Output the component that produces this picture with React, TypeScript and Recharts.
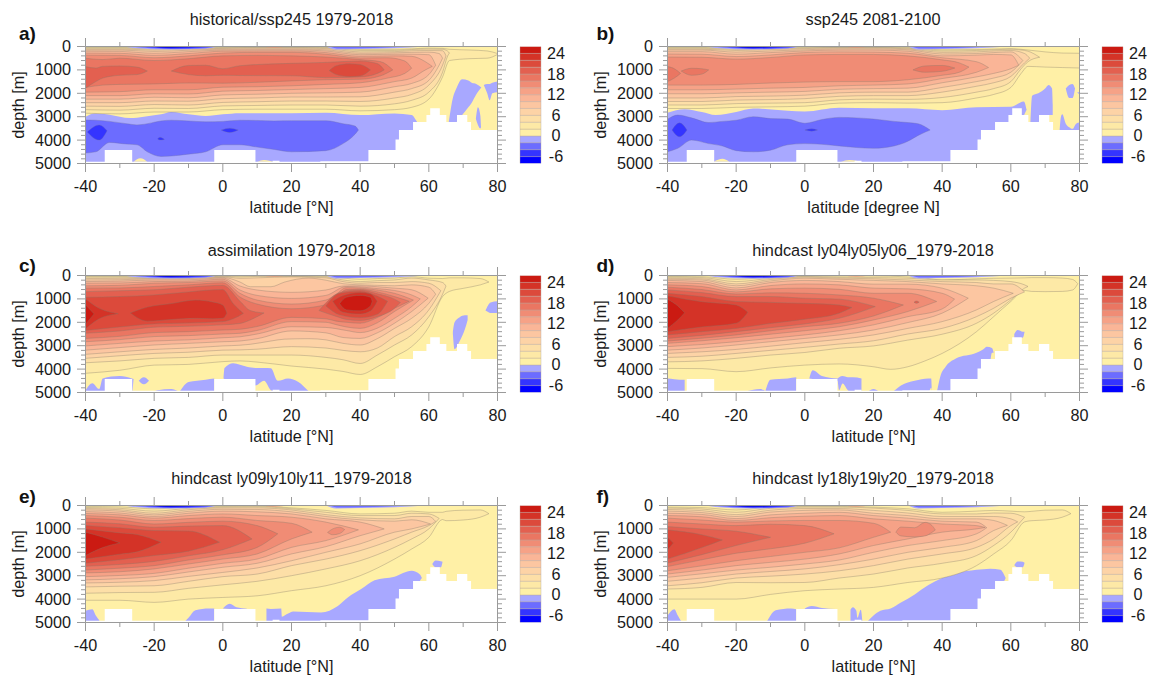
import React from 'react';
import { ComposedChart, Area, Bar, XAxis, YAxis } from 'recharts';

type Row = number[];
const FONT = '"Liberation Sans", Arial, sans-serif';

const latTicks = [-40, -30, -20, -10, 0, 10, 20, 30, 40, 50, 60, 70, 80];
const depthTicks = [0, 200, 400, 600, 800, 1000, 1200, 1400, 1600, 1800, 2000, 2200, 2400, 2600, 2800, 3000, 3200, 3400, 3600, 3800, 4000, 4200, 4400, 4600, 4800, 5000];
const barTicks = [24, 18, 12, 6, 0, -6];

const warmColors: Record<number, string> = {
  2: '#fde9a6', 4: '#fddfa7', 6: '#fdd3a6', 8: '#fcc6a1', 10: '#fab597', 12: '#f6a287',
  14: '#f08c75', 16: '#ea7662', 18: '#e36050', 20: '#dc4a3b', 22: '#d43327', 24: '#cb1a12',
};
const coldColors: Record<number, string> = { 0: '#a8a8ff', [-2]: '#6c6cff', [-4]: '#3434ff', [-6]: '#0000e0' };
const YELLOW = '#fff0a6';

const barBands = [
  { k: 'n1', v: -2, c: '#a8a8ff' }, { k: 'n2', v: -2, c: '#6c6cff' }, { k: 'n3', v: -2, c: '#3434ff' }, { k: 'n4', v: -2, c: '#0000ff' },
  { k: 'p0', v: 2, c: YELLOW }, { k: 'p2', v: 2, c: '#fde9a6' }, { k: 'p4', v: 2, c: '#fddfa7' }, { k: 'p6', v: 2, c: '#fdd3a6' },
  { k: 'p8', v: 2, c: '#fcc6a1' }, { k: 'p10', v: 2, c: '#fab597' }, { k: 'p12', v: 2, c: '#f6a287' }, { k: 'p14', v: 2, c: '#f08c75' },
  { k: 'p16', v: 2, c: '#ea7662' }, { k: 'p18', v: 2, c: '#e36050' }, { k: 'p20', v: 2, c: '#dc4a3b' }, { k: 'p22', v: 2, c: '#d43327' }, { k: 'p24', v: 2, c: '#cb1a12' },
];

const baseBox: Row[] = [[-40, 0, 5000], [80, 0, 5000]];
const seafloor: Row[] = [[-40, 4920, 5000], [-34.4, 4420, 5000], [-26.4, 4920, 5000], [-2.5, 4420, 5000], [9.5, 4920, 5000], [14.5, 4880, 5000], [16.5, 4920, 5000], [28.4, 4900, 5000], [42.4, 4420, 5000], [50.3, 3970, 5000], [51.3, 3570, 5000], [55.4, 3230, 5000], [59.3, 2930, 5000], [60.4, 2640, 5000], [63.2, 2930, 5000], [65.1, 3230, 5000], [68.2, 2930, 5000], [71.2, 3230, 5000], [72.3, 3570, 5000], [80, 3570, 5000]];

// surface lenses
const surfLeft0: Row[] = [[-29, 0, 0], [-26, 0, 60], [-15, 0, 130], [-5, 0, 90], [-1.5, 0, 0]];
const surfLeft2: Row[] = [[-27, 0, 0], [-15, 0, 110], [-5, 0, 70], [-2, 0, 0]];
const surfLeft4: Row[] = [[-24, 0, 0], [-15, 0, 85], [-7, 0, 50], [-3, 0, 0]];
const surfLeft6: Row[] = [[-21, 0, 0], [-15, 0, 55], [-10, 0, 35], [-6, 0, 0]];
const surfRight0: Row[] = [[30, 0, 0], [33, 0, 130], [40, 0, 110], [50, 0, 70], [59, 0, 0]];
const surfRight2: Row[] = [[31, 0, 0], [34, 0, 90], [40, 0, 70], [48, 0, 40], [54, 0, 0]];
const surfWarm: Row[] = [[11, 0, 0], [15, 0, 45], [19, 0, 0]];

// panel a
const aC0a: Row[] = [[-40, 3000, 5000], [-37, 2850, 5000], [-33, 2920, 5000], [-27, 3060, 5000], [-23, 3000, 5000], [-18, 2900, 5000], [-15, 2800, 5000], [-10, 2900, 5000], [-5, 2970, 5000], [0, 2900, 5000], [5, 2850, 5000], [20, 2850, 5000], [30, 2830, 5000], [40, 2930, 5000], [50, 2860, 5000], [55, 2930, 5000], [56.5, 3200, 5000], [57, 3300, 3300]];
const aC0b: Row[] = [[65.8, 3230, 3230], [67, 2200, 3230], [68, 1800, 3230], [69.7, 1400, 2930], [71.5, 1450, 2600], [72.5, 1550, 2400], [73.8, 1600, 2050], [75.3, 1750, 1750]];
const aC0c: Row[] = [[73.7, 3100, 3100], [74.3, 2600, 3350], [75, 2950, 3500], [75.2, 3450, 3450]];
const aC0d: Row[] = [[76, 1650, 1650], [77, 1600, 2000], [77.7, 1600, 2300], [78.5, 1550, 2000], [80, 1500, 1950]];
const aC2: Row[] = [[-40, 3140, 4550], [-37, 3150, 4500], [-33, 3200, 4100], [-28, 3300, 4170], [-25, 3350, 4200], [-22, 3300, 4500], [-18, 3180, 4700], [-15, 3150, 4680], [-10, 3180, 4600], [-5, 3220, 4500], [0, 3200, 4200], [5, 3150, 4200], [10, 3160, 4300], [15, 3180, 4400], [20, 3170, 4500], [30, 3170, 4450], [35, 3300, 4150], [38.5, 3400, 3750], [39.5, 3570, 3570]];
const aC4a: Row[] = [[-39.5, 3650, 3650], [-36, 3350, 4000], [-33.7, 3600, 3600]];
const aC4b: Row[] = [[-19, 3950, 3950], [-18.3, 3880, 4000], [-17, 3970, 3970]];
const aC4c: Row[] = [[-0.5, 3570, 3570], [2, 3490, 3680], [4.5, 3570, 3570]];
const aY1: Row[] = [[-26, 4930, 4930], [-24, 4780, 4930], [-22, 4930, 4930]];
const aY2: Row[] = [[10, 4930, 4930], [12, 4850, 4930], [15, 4950, 4950]];
const aL2: Row[] = [[-40, 40, 2850], [-30, 40, 2880], [-20, 60, 2800], [-10, 40, 2800], [0, 30, 2700], [10, 20, 2680], [20, 20, 2680], [30, 40, 2680], [40, 120, 2750], [50, 120, 2700], [55, 100, 2600], [60, 70, 2250], [64, 80, 1300], [66, 120, 600], [72, 150, 520], [77, 190, 500], [80, 300, 340]];
const aL4: Row[] = [[-40, 70, 2700], [-30, 70, 2720], [-20, 100, 2640], [-10, 70, 2650], [0, 50, 2540], [10, 40, 2520], [20, 40, 2500], [30, 60, 2500], [40, 170, 2550], [50, 170, 2450], [55, 130, 2300], [60, 110, 1950], [64, 120, 1100], [65.5, 200, 400], [66, 280, 280]];
const aL6: Row[] = [[-40, 110, 2550], [-30, 110, 2560], [-20, 150, 2480], [-10, 110, 2500], [0, 80, 2390], [10, 60, 2360], [20, 60, 2330], [30, 90, 2330], [40, 230, 2350], [50, 220, 2200], [55, 180, 2050], [60, 170, 1650], [64, 180, 800], [65, 400, 400]];
const aL8: Row[] = [[-40, 150, 2400], [-30, 150, 2400], [-20, 210, 2330], [-10, 160, 2340], [0, 110, 2230], [10, 100, 2200], [20, 100, 2160], [30, 140, 2160], [40, 290, 2150], [50, 270, 1950], [55, 250, 1800], [60, 240, 1450], [63, 300, 800], [64, 500, 500]];
const aL10: Row[] = [[-40, 200, 2250], [-30, 210, 2250], [-20, 290, 2170], [-10, 220, 2190], [0, 150, 2070], [10, 140, 2040], [20, 140, 2000], [30, 190, 1980], [40, 350, 1950], [50, 330, 1720], [55, 330, 1580], [60, 350, 1200], [62, 800, 800]];
const aL12: Row[] = [[-40, 280, 2100], [-30, 290, 2100], [-20, 380, 2020], [-10, 300, 2030], [0, 200, 1910], [10, 190, 1880], [20, 190, 1840], [30, 260, 1800], [40, 420, 1750], [50, 400, 1500], [55, 420, 1350], [59, 650, 1000], [61, 850, 850]];
const aL14: Row[] = [[-40, 370, 1950], [-30, 380, 1930], [-20, 480, 1850], [-10, 400, 1850], [0, 280, 1740], [10, 250, 1720], [20, 250, 1680], [30, 330, 1620], [40, 490, 1550], [48, 480, 1350], [53, 620, 1150], [55, 930, 930]];
const aL16: Row[] = [[-40, 500, 1750], [-35, 560, 1650], [-30, 500, 1620], [-20, 600, 1600], [-10, 520, 1560], [0, 400, 1570], [10, 380, 1530], [20, 400, 1470], [30, 450, 1420], [40, 560, 1400], [46, 650, 1250], [49.5, 1000, 1000]];
const aL18a: Row[] = [[-40, 860, 1780], [-37, 920, 1500], [-35, 850, 1350], [-30, 830, 1230], [-25, 880, 1200], [-22, 1050, 1050]];
const aL18b: Row[] = [[-15, 1050, 1050], [-10, 810, 1200], [-5, 800, 1250], [0, 950, 1230], [5, 820, 1240], [20, 720, 1250], [30, 680, 1330], [40, 620, 1300], [45, 730, 1150], [47, 1000, 1000]];
const aL20: Row[] = [[31, 1030, 1030], [33, 820, 1200], [37, 740, 1290], [40, 770, 1260], [43, 1000, 1000]];

// panel b
const bC0a: Row[] = [[-40, 2830, 5000], [-35, 2680, 5000], [-30, 2800, 5000], [-26, 2930, 5000], [-20, 2800, 5000], [-15, 2650, 5000], [-5, 2750, 5000], [0, 2780, 5000], [10, 2620, 5000], [20, 2640, 5000], [30, 2640, 5000], [40, 2720, 5000], [50, 2600, 5000], [60, 2580, 5000], [63.8, 2350, 2950], [64.6, 2700, 2700]];
const bC0b: Row[] = [[65.7, 3230, 3230], [66.2, 2100, 3230], [68, 2000, 3230], [70, 1800, 2930], [71, 1650, 2930], [72, 1800, 2930], [72.2, 2500, 2930]];
const bC0c: Row[] = [[74.2, 3570, 3570], [74.6, 3000, 3570], [75, 2900, 3570], [76, 3300, 3570], [77, 3450, 3570], [78, 3520, 3570], [79, 3300, 3570], [80, 3250, 3570]];
const bC0d: Row[] = [[76, 1800, 1800], [77, 1650, 2200], [78, 1600, 2200], [78.7, 1800, 1800]];
const bC0e: Row[] = [[79.3, 1950, 1950], [80, 1950, 2050]];
const bC2: Row[] = [[-40, 3110, 4500], [-37, 2930, 4350], [-33, 3050, 4000], [-28, 3250, 4150], [-24, 3200, 4250], [-20, 3150, 4450], [-15, 3000, 4500], [-10, 3080, 4430], [-5, 3100, 4200], [0, 3280, 4150], [5, 3120, 4180], [10, 3030, 4250], [20, 3100, 4350], [26, 3200, 4250], [30, 3250, 4050], [33, 3300, 3800], [36.5, 3570, 3570]];
const bC4a: Row[] = [[-38.7, 3570, 3570], [-36.5, 3260, 3860], [-34.3, 3570, 3570]];
const bC4b: Row[] = [[0, 3570, 3570], [2, 3520, 3620], [3.7, 3570, 3570]];
const bY1: Row[] = [[-26.5, 4920, 4920], [-24, 4800, 4920], [-22, 4920, 4920]];
const bY2: Row[] = [[10.5, 4930, 4930], [13, 4850, 4930], [17, 4950, 4950]];
const bL2: Row[] = [[-40, 40, 2650], [-30, 40, 2650], [-20, 70, 2600], [-10, 50, 2580], [0, 30, 2550], [10, 20, 2420], [20, 20, 2400], [30, 40, 2420], [40, 140, 2400], [50, 130, 2200], [55, 110, 2050], [60, 90, 1750], [63, 120, 1150], [65, 150, 850], [70, 230, 880], [75, 280, 900], [80, 290, 920]];
const bL4: Row[] = [[-40, 70, 2500], [-30, 70, 2500], [-20, 120, 2440], [-10, 90, 2420], [0, 60, 2400], [10, 40, 2280], [20, 40, 2250], [30, 70, 2260], [40, 190, 2180], [50, 170, 1950], [55, 140, 1800], [60, 120, 1500], [63, 150, 950], [65, 200, 650], [68.4, 460, 460]];
const bL6: Row[] = [[-40, 110, 2350], [-30, 110, 2350], [-20, 170, 2290], [-10, 130, 2270], [0, 90, 2230], [10, 60, 2130], [20, 60, 2100], [30, 100, 2100], [40, 250, 1950], [50, 230, 1700], [55, 190, 1550], [60, 170, 1280], [64, 300, 700], [65.5, 500, 500]];
const bL8: Row[] = [[-40, 150, 2200], [-30, 150, 2200], [-20, 240, 2140], [-10, 190, 2120], [0, 140, 2080], [10, 100, 1980], [20, 100, 1950], [30, 140, 1950], [40, 320, 1750], [50, 300, 1500], [55, 260, 1350], [60, 230, 1100], [63.5, 600, 600]];
const bL10: Row[] = [[-40, 220, 2020], [-30, 220, 2020], [-20, 330, 1980], [-10, 260, 1950], [0, 190, 1920], [10, 150, 1830], [20, 150, 1800], [30, 200, 1780], [40, 400, 1550], [50, 370, 1300], [55, 340, 1150], [60, 360, 950], [62.3, 800, 800]];
const bL12: Row[] = [[-40, 320, 1850], [-30, 330, 1850], [-20, 430, 1820], [-10, 360, 1780], [0, 260, 1750], [10, 230, 1680], [20, 240, 1650], [30, 290, 1600], [40, 480, 1370], [50, 650, 1100], [53.5, 900, 900]];
const bL14: Row[] = [[-40, 450, 1650], [-30, 460, 1650], [-20, 540, 1620], [-10, 470, 1560], [0, 360, 1520], [10, 340, 1500], [20, 340, 1500], [30, 400, 1420], [40, 570, 1230], [45, 700, 1100], [47.8, 880, 880]];
const bL16a: Row[] = [[-40, 860, 1500], [-38, 950, 1350], [-36.2, 1150, 1150]];
const bL16b: Row[] = [[-36, 1050, 1050], [-33, 930, 1230], [-30, 950, 1180], [-28, 1000, 1000]];
const bL16c: Row[] = [[31.5, 1000, 1000], [35, 830, 1100], [40, 810, 1060], [43.7, 920, 920]];

// panel c
const cC0a: Row[] = [[-40, 4900, 5000], [-38, 4600, 5000], [-36, 4850, 5000], [-35, 4400, 5000], [-30, 4300, 5000], [-26.5, 4400, 5000], [-26, 4420, 4420]];
const cC0b: Row[] = [[-24.5, 4500, 4500], [-23, 4350, 4650], [-21.5, 4500, 4500]];
const cC0c: Row[] = [[-20, 4950, 4950], [-19, 4900, 5000], [-15, 4850, 5000], [-13, 4950, 4950]];
const cC0d: Row[] = [[-12.5, 4950, 5000], [-10, 4550, 5000], [-5, 4450, 5000], [-2.5, 4400, 5000]];
const cC0e: Row[] = [[0.2, 4400, 4400], [0.5, 3950, 4420], [3, 3750, 4420], [7, 3900, 4420], [9.5, 3950, 4700], [12, 3950, 4500], [14, 3960, 4900], [16, 4500, 5000], [19, 4400, 5000], [22, 4550, 5000], [25, 4950, 5000]];
const cC0f: Row[] = [[67, 2400, 2500], [67.5, 2000, 3150], [69, 1780, 2800], [70.5, 1700, 2300], [71.3, 1700, 1900]];
const cC0g: Row[] = [[76.5, 1500, 1500], [78, 1150, 1600], [80, 1100, 1600]];
const cL2: Row[] = [[-40, 40, 4180], [-30, 40, 4050], [-20, 60, 3830], [-10, 50, 3800], [0, 20, 3680], [5, 20, 3650], [10, 20, 3700], [20, 25, 3870], [30, 30, 4000], [35, 110, 4100], [40, 160, 4230], [45, 130, 3900], [50, 110, 3470], [55, 50, 3040], [60, 115, 2190], [64, 130, 900], [66, 100, 680], [70, 100, 550], [75, 130, 400], [77.5, 280, 280]];
const cL4: Row[] = [[-40, 70, 3730], [-30, 70, 3650], [-20, 90, 3540], [-10, 90, 3500], [0, 30, 3400], [5, 60, 3400], [10, 40, 3400], [20, 40, 3400], [30, 60, 3500], [35, 190, 3600], [40, 260, 3760], [45, 220, 3400], [50, 190, 2970], [55, 110, 2540], [60, 190, 1760], [64, 300, 800], [65, 450, 450]];
const cL6: Row[] = [[-40, 130, 3540], [-30, 120, 3430], [-20, 120, 3330], [-10, 110, 3280], [0, 50, 3190], [5, 120, 3180], [10, 100, 3150], [20, 60, 3040], [30, 100, 3100], [35, 260, 3200], [40, 330, 3260], [45, 300, 3100], [50, 300, 2610], [55, 260, 2190], [60, 330, 1470], [63.5, 650, 650]];
const cL8: Row[] = [[-40, 190, 3370], [-30, 180, 3260], [-20, 140, 3160], [-10, 130, 3100], [0, 80, 3010], [5, 280, 2980], [8, 480, 2940], [14, 480, 2800], [18, 280, 2720], [25, 110, 2700], [30, 200, 2750], [35, 350, 2900], [40, 400, 2970], [45, 420, 2700], [50, 440, 2260], [55, 400, 1830], [60, 500, 1190], [62, 800, 800]];
const cL10: Row[] = [[-40, 260, 3190], [-30, 240, 3080], [-20, 190, 2970], [-10, 180, 2900], [0, 110, 2830], [5, 450, 2800], [10, 620, 2700], [20, 720, 2370], [30, 620, 2450], [35, 450, 2650], [40, 440, 2690], [45, 480, 2450], [50, 540, 2040], [55, 610, 1540], [59.8, 970, 970]];
const cL12: Row[] = [[-40, 330, 3010], [-30, 320, 2900], [-20, 260, 2800], [-10, 240, 2750], [0, 160, 2660], [5, 620, 2620], [10, 850, 2500], [20, 980, 2190], [30, 850, 2220], [36, 470, 2350], [40, 490, 2440], [45, 560, 2250], [50, 640, 1830], [55, 830, 1330], [57.5, 1000, 1000]];
const cL14: Row[] = [[-40, 440, 2830], [-30, 420, 2740], [-20, 330, 2610], [-10, 300, 2570], [0, 230, 2500], [5, 760, 2470], [10, 1050, 2350], [20, 1220, 1970], [30, 1050, 2000], [33, 800, 2100], [36, 520, 2200], [40, 540, 2260], [45, 620, 2020], [50, 760, 1540], [55.5, 1050, 1050]];
const cL16: Row[] = [[-40, 540, 2690], [-30, 530, 2600], [-20, 470, 2440], [-10, 400, 2400], [0, 310, 2330], [5, 920, 2300], [10, 1220, 2180], [20, 1420, 1790], [30, 1250, 1850], [33, 950, 1950], [36, 600, 2000], [40, 590, 2040], [45, 700, 1800], [50, 900, 1400], [54.3, 1100, 1100]];
const cL18a: Row[] = [[-40, 690, 2470], [-30, 650, 2370], [-20, 610, 2210], [-10, 500, 2170], [0, 420, 2110], [5, 1100, 2050], [8, 1500, 1900], [12, 1600, 1600]];
const cL18b: Row[] = [[28, 1500, 1500], [33, 800, 1750], [36, 660, 1880], [40, 620, 1920], [45, 780, 1760], [50, 1010, 1400], [51.7, 1150, 1150]];
const cL20a: Row[] = [[-40, 930, 2350], [-30, 900, 2200], [-20, 830, 2070], [-10, 700, 2030], [0, 600, 1970], [3, 1200, 1850], [6, 1620, 1620]];
const cL20b: Row[] = [[30, 1300, 1300], [34, 760, 1680], [40, 670, 1810], [45, 880, 1660], [48, 1100, 1100]];
const cL22a: Row[] = [[-40, 1000, 2280], [-36, 1400, 1850], [-30.5, 1630, 1630]];
const cL22b: Row[] = [[-27, 1600, 1600], [-22, 1350, 1950], [-15, 1200, 1880], [-8, 1050, 1830], [-3, 1130, 1850], [0, 1260, 1830], [1.2, 1610, 1610]];
const cL22c: Row[] = [[32, 1100, 1100], [35, 860, 1570], [40, 730, 1650], [43, 780, 1520], [45, 1100, 1100]];
const cL24a: Row[] = [[-40, 1250, 2080], [-37.5, 1640, 1640]];
const cL24b: Row[] = [[34, 1200, 1200], [36, 930, 1470], [40, 850, 1510], [43, 930, 1300], [43.5, 1100, 1100]];

// panel d
const dC0a: Row[] = [[-40, 4400, 5000], [-38, 4430, 5000], [-36.5, 4450, 4950], [-35, 4450, 5000]];
const dC0b: Row[] = [[-17, 4950, 4950], [-13, 4850, 5000], [-11.5, 4950, 4950]];
const dC0c: Row[] = [[-11.5, 4950, 5000], [-10, 4450, 5000], [-5, 4400, 5000], [-2.5, 4350, 5000]];
const dC0d: Row[] = [[1.3, 4400, 4400], [2.3, 4050, 4420], [5, 4300, 4420], [9.5, 4400, 4500], [10, 4350, 4900], [11, 4300, 4620], [12.5, 4350, 4900], [14, 4350, 5000], [16.5, 4400, 5000]];
const dC0e: Row[] = [[18.5, 4950, 4950], [20, 4850, 5000], [21.5, 4950, 4950]];
const dC0f: Row[] = [[25.5, 5000, 5000], [28, 4700, 5000], [32, 4500, 5000], [36, 4400, 5000], [36.8, 4400, 4800], [37, 5000, 5000]];
const dC0g: Row[] = [[38.5, 4950, 5000], [39.5, 4300, 5000], [41, 3900, 5000], [44, 3550, 5000], [50, 3300, 5000], [52, 3150, 5000], [53, 3050, 5000], [54.5, 3100, 3300], [55, 3300, 3300]];
const dC0h: Row[] = [[61, 2500, 2700], [62, 2330, 2700], [63.5, 2400, 2650], [64, 2400, 2400]];
const dL2: Row[] = [[-40, 40, 3970], [-30, 50, 3980], [-20, 160, 4110], [-10, 80, 3950], [0, 15, 3830], [10, 15, 3780], [20, 20, 3900], [25, 30, 4010], [30, 60, 3900], [35, 110, 3650], [40, 190, 3330], [50, 140, 2400], [55, 120, 1760], [60, 110, 1110], [64, 100, 640], [66, 90, 680], [70, 90, 690], [75, 110, 680], [78, 170, 620], [79.5, 350, 350]];
const dL4: Row[] = [[-40, 70, 3690], [-30, 90, 3650], [-20, 260, 3540], [-10, 120, 3400], [0, 40, 3290], [10, 70, 3110], [20, 90, 3010], [30, 115, 2760], [40, 190, 2510], [50, 190, 2040], [55, 210, 1610], [60, 260, 1040], [64, 400, 540], [65, 470, 470]];
const dL6: Row[] = [[-40, 115, 3500], [-30, 140, 3450], [-20, 360, 3330], [-10, 170, 3200], [0, 70, 3070], [10, 110, 2930], [20, 140, 2790], [30, 190, 2500], [40, 260, 2260], [50, 300, 1760], [55, 360, 1400], [60, 360, 970], [64, 700, 700]];
const dL8: Row[] = [[-40, 160, 3330], [-30, 190, 3260], [-20, 440, 3160], [-10, 230, 3020], [0, 115, 2870], [10, 160, 2730], [20, 210, 2540], [30, 260, 2260], [40, 360, 1970], [50, 440, 1470], [55, 540, 1110], [60.7, 760, 760]];
const dL10: Row[] = [[-40, 210, 3190], [-30, 260, 3100], [-20, 530, 2970], [-10, 300, 2830], [0, 210, 2690], [10, 260, 2540], [20, 370, 2330], [30, 370, 2010], [40, 540, 1610], [47.6, 970, 970]];
const dL12: Row[] = [[-40, 300, 3040], [-30, 350, 2950], [-20, 615, 2830], [-10, 430, 2690], [0, 360, 2540], [10, 400, 2360], [20, 540, 2110], [30, 570, 1760], [40, 760, 1430], [43.6, 1010, 1010]];
const dL14: Row[] = [[-40, 400, 2900], [-30, 470, 2790], [-20, 700, 2660], [-10, 570, 2510], [0, 540, 2360], [10, 590, 2190], [20, 760, 1900], [30, 760, 1540], [38.4, 1110, 1110]];
const dL16: Row[] = [[-40, 500, 2800], [-30, 600, 2680], [-20, 790, 2540], [-10, 740, 2360], [0, 760, 2190], [10, 830, 2040], [20, 970, 1730], [28.7, 1260, 1260]];
const dL18: Row[] = [[-40, 615, 2690], [-30, 730, 2560], [-20, 900, 2400], [-10, 900, 2230], [0, 970, 2070], [10, 1010, 1830], [20.5, 1330, 1330]];
const dL18b: Row[] = [[31.8, 1140, 1140], [32.5, 1090, 1190], [33.3, 1140, 1140]];
const dL20: Row[] = [[-40, 760, 2540], [-30, 900, 2400], [-20, 1110, 2260], [-10, 1150, 2050], [0, 1190, 1870], [10, 1260, 1610], [13.7, 1370, 1370]];
const dL22: Row[] = [[-40, 870, 2400], [-30, 1120, 2200], [-20, 1260, 2040], [-16.6, 1570, 1570]];
const dL24: Row[] = [[-40, 1010, 2260], [-37, 1300, 1900], [-35, 1590, 1590]];

// panel e
const eC0a: Row[] = [[-40, 4500, 5000], [-38, 4430, 5000], [-37, 4700, 5000], [-36, 4900, 5000]];
const eC0b: Row[] = [[-11, 4950, 4950], [-10, 4800, 5000], [-8, 4480, 5000], [-4, 4400, 5000], [-2.5, 4400, 5000]];
const eC0c: Row[] = [[0, 4400, 4400], [2, 4200, 4420], [4, 4350, 4420], [7, 4410, 4420]];
const eC0d: Row[] = [[12.7, 4400, 5000], [14, 4420, 5000], [17, 4400, 5000], [17.2, 4750, 5000], [19, 4620, 5000], [20.5, 4530, 5000], [28.6, 4570, 5000], [33.5, 4290, 5000], [36.4, 3930, 5000], [40.3, 3570, 5000], [44.2, 3190, 5000], [50, 3040, 5000], [55, 2790, 5000], [57.4, 2950, 3230], [58, 3100, 3100]];
const eC0e: Row[] = [[61, 2500, 2500], [62, 2350, 2640], [63.5, 2380, 2640], [64, 2400, 2400]];
const eL2: Row[] = [[-40, 40, 4050], [-30, 60, 4050], [-20, 140, 4140], [-10, 60, 4000], [0, 30, 3930], [10, 20, 3860], [20, 100, 3640], [30, 210, 3430], [40, 360, 3000], [50, 330, 2290], [55, 240, 1860], [60, 290, 1360], [64, 290, 600], [65, 250, 650], [70, 200, 620], [75, 190, 500], [77.5, 350, 350]];
const eL4: Row[] = [[-40, 85, 3750], [-30, 120, 3720], [-20, 240, 3710], [-10, 120, 3540], [0, 60, 3390], [10, 50, 3240], [20, 140, 3000], [30, 290, 2710], [40, 430, 2360], [50, 430, 1790], [55, 330, 1430], [60, 360, 1000], [63, 550, 550]];
const eL6: Row[] = [[-40, 130, 3480], [-30, 180, 3450], [-20, 330, 3430], [-10, 180, 3240], [0, 100, 3040], [10, 100, 2930], [20, 190, 2570], [30, 390, 2290], [40, 530, 1930], [50, 570, 1430], [55, 470, 1140], [60, 470, 860], [62, 680, 680]];
const eL8: Row[] = [[-40, 185, 3310], [-30, 240, 3280], [-20, 400, 3210], [-10, 250, 3030], [0, 160, 2860], [10, 170, 2670], [20, 270, 2360], [30, 470, 2000], [40, 610, 1640], [50, 670, 1140], [55, 610, 1000], [60.5, 790, 790]];
const eL10: Row[] = [[-40, 260, 3180], [-30, 320, 3130], [-20, 470, 3040], [-10, 330, 2840], [0, 240, 2640], [10, 270, 2470], [20, 360, 2070], [30, 570, 1760], [40, 710, 1290], [47, 1000, 1000]];
const eL12: Row[] = [[-40, 340, 3040], [-30, 400, 2990], [-20, 540, 2900], [-10, 430, 2680], [0, 360, 2470], [10, 430, 2290], [20, 500, 1790], [30, 710, 1500], [39.5, 1040, 1040]];
const eL14: Row[] = [[-40, 430, 2880], [-30, 500, 2830], [-20, 640, 2710], [-10, 560, 2500], [0, 500, 2290], [10, 640, 2070], [20, 760, 1430], [26, 1140, 1140]];
const eL14b: Row[] = [[30.5, 1150, 1150], [32, 1000, 1250], [34, 930, 1200], [35.5, 1030, 1030]];
const eL16: Row[] = [[-40, 540, 2760], [-30, 620, 2680], [-20, 790, 2570], [-10, 720, 2330], [0, 670, 2110], [10, 860, 1790], [16, 1210, 1210]];
const eL18: Row[] = [[-40, 710, 2600], [-30, 780, 2520], [-20, 930, 2390], [-10, 880, 2150], [0, 860, 1890], [8.5, 1430, 1430]];
const eL20: Row[] = [[-40, 850, 2470], [-30, 950, 2320], [-20, 1070, 2140], [-10, 1090, 1950], [-1, 1570, 1570]];
const eL22: Row[] = [[-40, 1000, 2290], [-30, 1170, 2080], [-25, 1240, 1980], [-18, 1570, 1570]];
const eL24: Row[] = [[-40, 1140, 2140], [-35, 1350, 1800], [-30, 1600, 1600]];

// panel f
const fC0a: Row[] = [[-40, 4700, 5000], [-38, 4430, 5000], [-37, 4700, 5000], [-36, 4950, 5000]];
const fC0b: Row[] = [[-11, 4950, 4950], [-10, 4700, 5000], [-8.5, 4480, 5000], [-4, 4400, 5000], [-2.5, 4430, 5000]];
const fC0c: Row[] = [[0, 4400, 4420], [2, 4300, 4420], [5, 4380, 4420], [9, 4420, 4420]];
const fC0d: Row[] = [[13.3, 4450, 5000], [14, 4350, 5000], [15, 4500, 5000], [15.3, 4800, 5000], [16.3, 4450, 5000], [16.8, 5000, 5000]];
const fC0e: Row[] = [[18, 5000, 5000], [20, 4700, 5000], [22, 4500, 5000], [25, 4400, 5000], [28, 4150, 5000], [32, 3800, 5000], [36, 3400, 5000], [40, 3100, 5000], [44, 2900, 5000], [50, 2750, 5000], [54, 2700, 5000], [57, 2750, 3230], [58, 2950, 3230], [58.5, 3100, 3100]];
const fC0f: Row[] = [[61, 2550, 2550], [62, 2390, 2640], [63.5, 2400, 2640], [64, 2450, 2450]];
const fL2: Row[] = [[-40, 70, 4000], [-30, 90, 4000], [-20, 190, 4000], [-10, 70, 3800], [0, 40, 3640], [10, 40, 3570], [20, 70, 3500], [30, 140, 3290], [40, 290, 3100], [50, 240, 2570], [55, 210, 2070], [60, 240, 1500], [64, 270, 700], [66, 250, 650], [70, 200, 620], [75, 190, 500], [77.5, 350, 350]];
const fL4: Row[] = [[-40, 110, 3570], [-30, 150, 3500], [-20, 290, 3290], [-10, 120, 3300], [0, 70, 3290], [10, 70, 3100], [20, 110, 2930], [30, 210, 2670], [40, 360, 2470], [50, 360, 2140], [55, 320, 1710], [60, 330, 1140], [64, 500, 500]];
const fL6: Row[] = [[-40, 170, 3430], [-30, 220, 3300], [-20, 390, 3100], [-10, 200, 3020], [0, 130, 2930], [10, 130, 2790], [20, 210, 2570], [30, 320, 2290], [40, 470, 2070], [50, 470, 1790], [55, 470, 1430], [60, 570, 860], [62, 700, 700]];
const fL8: Row[] = [[-40, 240, 3240], [-30, 300, 3100], [-20, 470, 2930], [-10, 280, 2820], [0, 210, 2710], [10, 190, 2530], [20, 330, 2290], [30, 430, 2000], [40, 570, 1790], [50, 570, 1500], [55, 640, 1070], [59, 850, 850]];
const fL10: Row[] = [[-40, 330, 3070], [-30, 380, 2920], [-20, 560, 2760], [-10, 400, 2640], [0, 330, 2500], [10, 290, 2330], [20, 430, 2000], [30, 540, 1710], [40, 670, 1500], [50, 710, 1210], [53, 950, 950]];
const fL12: Row[] = [[-40, 430, 2930], [-30, 480, 2760], [-20, 640, 2570], [-10, 520, 2430], [0, 460, 2290], [10, 430, 2070], [20, 570, 1710], [30, 670, 1430], [40, 790, 1140], [50, 860, 1000], [52.5, 940, 940]];
const fL14: Row[] = [[-40, 540, 2790], [-30, 620, 2580], [-20, 710, 2360], [-10, 660, 2180], [0, 640, 2000], [10, 640, 1810], [20, 760, 1360], [25, 1140, 1140]];
const fL14b: Row[] = [[26.5, 1140, 1140], [28, 920, 1300], [32, 950, 1340], [35, 720, 1300], [37, 850, 1150], [38, 1050, 1050]];
const fL16: Row[] = [[-40, 710, 2610], [-30, 790, 2320], [-20, 860, 2040], [-10, 800, 1850], [0, 860, 1610], [8.5, 1210, 1210]];
const fL18: Row[] = [[-40, 900, 2460], [-30, 1000, 2100], [-20, 1100, 1710], [-10, 1360, 1360]];
const fL20: Row[] = [[-40, 1040, 2290], [-30, 1250, 1800], [-24, 1470, 1470]];
const fL22: Row[] = [[-40, 1360, 1900], [-38.3, 1600, 1600]];

type Layer = { kind: 'base' | 'warm' | 'cold' | 'surf' | 'yellow' | 'floor'; level: number; rows: Row[] };
const L = (kind: Layer['kind'], level: number, rows: Row[]): Layer => ({ kind, level, rows });

const surfLayers = (): Layer[] => [
  L('surf', 14, surfWarm),
  L('surf', 0, surfLeft0), L('surf', -2, surfLeft2), L('surf', -4, surfLeft4), L('surf', -6, surfLeft6),
  L('surf', 0, surfRight0), L('surf', -2, surfRight2),
];
const wrap = (inner: Layer[]): Layer[] => [L('base', 0, baseBox), ...inner, ...surfLayers(), L('floor', 0, seafloor)];

const panels = [
  { letter: 'a)', title: 'historical/ssp245 1979-2018', xLabel: 'latitude [°N]', col: 0, row: 0, layers: wrap([
    L('cold', 0, aC0a), L('cold', 0, aC0b), L('cold', 0, aC0c), L('cold', 0, aC0d), L('cold', -2, aC2), L('cold', -4, aC4a), L('cold', -4, aC4b), L('cold', -4, aC4c),
    L('yellow', 0, aY1), L('yellow', 0, aY2),
    L('warm', 2, aL2), L('warm', 4, aL4), L('warm', 6, aL6), L('warm', 8, aL8), L('warm', 10, aL10), L('warm', 12, aL12), L('warm', 14, aL14), L('warm', 16, aL16), L('warm', 18, aL18a), L('warm', 18, aL18b), L('warm', 20, aL20),
  ]) },
  { letter: 'b)', title: 'ssp245 2081-2100', xLabel: 'latitude [degree N]', col: 1, row: 0, layers: wrap([
    L('cold', 0, bC0a), L('cold', 0, bC0b), L('cold', 0, bC0c), L('cold', 0, bC0d), L('cold', 0, bC0e), L('cold', -2, bC2), L('cold', -4, bC4a), L('cold', -4, bC4b),
    L('yellow', 0, bY1), L('yellow', 0, bY2),
    L('warm', 2, bL2), L('warm', 4, bL4), L('warm', 6, bL6), L('warm', 8, bL8), L('warm', 10, bL10), L('warm', 12, bL12), L('warm', 14, bL14), L('warm', 16, bL16a), L('warm', 16, bL16b), L('warm', 16, bL16c),
  ]) },
  { letter: 'c)', title: 'assimilation 1979-2018', xLabel: 'latitude [°N]', col: 0, row: 1, layers: wrap([
    L('cold', 0, cC0a), L('cold', 0, cC0b), L('cold', 0, cC0c), L('cold', 0, cC0d), L('cold', 0, cC0e), L('cold', 0, cC0f), L('cold', 0, cC0g),
    L('warm', 2, cL2), L('warm', 4, cL4), L('warm', 6, cL6), L('warm', 8, cL8), L('warm', 10, cL10), L('warm', 12, cL12), L('warm', 14, cL14), L('warm', 16, cL16), L('warm', 18, cL18a), L('warm', 18, cL18b), L('warm', 20, cL20a), L('warm', 20, cL20b), L('warm', 22, cL22a), L('warm', 22, cL22b), L('warm', 22, cL22c), L('warm', 24, cL24a), L('warm', 24, cL24b),
  ]) },
  { letter: 'd)', title: 'hindcast ly04ly05ly06_1979-2018', xLabel: 'latitude [°N]', col: 1, row: 1, layers: wrap([
    L('cold', 0, dC0a), L('cold', 0, dC0b), L('cold', 0, dC0c), L('cold', 0, dC0d), L('cold', 0, dC0e), L('cold', 0, dC0f), L('cold', 0, dC0g), L('cold', 0, dC0h),
    L('warm', 2, dL2), L('warm', 4, dL4), L('warm', 6, dL6), L('warm', 8, dL8), L('warm', 10, dL10), L('warm', 12, dL12), L('warm', 14, dL14), L('warm', 16, dL16), L('warm', 18, dL18), L('warm', 18, dL18b), L('warm', 20, dL20), L('warm', 22, dL22), L('warm', 24, dL24),
  ]) },
  { letter: 'e)', title: 'hindcast ly09ly10ly11_1979-2018', xLabel: 'latitude [°N]', col: 0, row: 2, layers: wrap([
    L('cold', 0, eC0a), L('cold', 0, eC0b), L('cold', 0, eC0c), L('cold', 0, eC0d), L('cold', 0, eC0e),
    L('warm', 2, eL2), L('warm', 4, eL4), L('warm', 6, eL6), L('warm', 8, eL8), L('warm', 10, eL10), L('warm', 12, eL12), L('warm', 14, eL14), L('warm', 14, eL14b), L('warm', 16, eL16), L('warm', 18, eL18), L('warm', 20, eL20), L('warm', 22, eL22), L('warm', 24, eL24),
  ]) },
  { letter: 'f)', title: 'hindcast ly18ly19ly20_1979-2018', xLabel: 'latitude [°N]', col: 1, row: 2, layers: wrap([
    L('cold', 0, fC0a), L('cold', 0, fC0b), L('cold', 0, fC0c), L('cold', 0, fC0d), L('cold', 0, fC0e), L('cold', 0, fC0f),
    L('warm', 2, fL2), L('warm', 4, fL4), L('warm', 6, fL6), L('warm', 8, fL8), L('warm', 10, fL10), L('warm', 12, fL12), L('warm', 14, fL14), L('warm', 14, fL14b), L('warm', 16, fL16), L('warm', 18, fL18), L('warm', 20, fL20), L('warm', 22, fL22),
  ]) },
];

const COL_X = [0, 581.5];
const ROW_Y = [0, 229.3, 458.6];
const LETTER_Y = [24, 27, 28];
const TITLE_Y = [10, 12, 10.5];
const AXIS = '#9a9a9a';
const TXT = '#1a1a1a';
const PLOT = { l: 85.5, r: 497.5, t: 46.5, b: 163.5 };
const TICK_FONT = 16.2;
const LABEL_FONT = 16.2;

const XBottomTick = (p: any) => {
  const major = p.payload.value % 20 === 0;
  return (
    <g>
      <line x1={p.x} x2={p.x} y1={PLOT.b} y2={PLOT.b + (major ? 8.5 : 4.5)} stroke={AXIS} />
      {major && <text x={p.x} y={PLOT.b + 28} textAnchor="middle" fontSize={TICK_FONT} fontFamily={FONT} fill={TXT}>{p.payload.value}</text>}
    </g>
  );
};
const XTopTick = (p: any) => {
  const major = p.payload.value % 20 === 0;
  return <line x1={p.x} x2={p.x} y1={PLOT.t} y2={PLOT.t - (major ? 8.5 : 4.5)} stroke={AXIS} />;
};
const YLeftTick = (p: any) => {
  const major = p.payload.value % 1000 === 0;
  return (
    <g>
      <line x1={PLOT.l} x2={PLOT.l - (major ? 8.5 : 4.5)} y1={p.y} y2={p.y} stroke={AXIS} />
      {major && <text x={71} y={p.y + 5.5} textAnchor="end" fontSize={TICK_FONT} fontFamily={FONT} fill={TXT}>{p.payload.value}</text>}
    </g>
  );
};
const YRightTick = (p: any) => {
  const major = p.payload.value % 1000 === 0;
  return <line x1={PLOT.r} x2={PLOT.r + (major ? 8.5 : 4.5)} y1={p.y} y2={p.y} stroke={AXIS} />;
};

const fillOf = (l: Layer) => {
  if (l.kind === 'base' || l.kind === 'yellow') return YELLOW;
  if (l.kind === 'floor') return '#ffffff';
  if (l.kind === 'warm') return warmColors[l.level];
  if (l.kind === 'surf' && l.level > 0) return warmColors[l.level];
  return coldColors[l.level];
};
const strokeOf = (l: Layer) => {
  if (l.kind === 'warm') return '#85796a';
  if (l.kind === 'cold' && l.level < 0) return '#7070a8';
  return 'none';
};

const Panel = ({ p }: { p: (typeof panels)[number] }) => (
  <div style={{ position: 'absolute', left: COL_X[p.col], top: ROW_Y[p.row], width: 568, height: 220 }}>
    <ComposedChart width={560} height={220} margin={{ top: 16.5, bottom: 1.5, left: 5.5, right: 2.5 }}>
      <XAxis xAxisId="b" type="number" dataKey="lat" domain={[-40, 80]} allowDataOverflow ticks={latTicks} interval={0} height={55} stroke={AXIS} tickLine={false} tick={XBottomTick}
        label={{ value: p.xLabel, position: 'insideBottom', offset: 6, fontSize: LABEL_FONT, fontFamily: FONT, fill: TXT }} />
      <XAxis xAxisId="t" type="number" dataKey="lat" orientation="top" domain={[-40, 80]} allowDataOverflow ticks={latTicks} interval={0} height={30} stroke={AXIS} tickLine={false} tick={XTopTick} />
      <YAxis yAxisId="l" type="number" reversed domain={[0, 5000]} allowDataOverflow ticks={depthTicks} interval={0} width={80} stroke={AXIS} tickLine={false} tick={YLeftTick}
        label={{ value: 'depth [m]', angle: -90, position: 'center', dx: -27.5, fontSize: LABEL_FONT, fontFamily: FONT, fill: TXT }} />
      <YAxis yAxisId="r" type="number" orientation="right" reversed domain={[0, 5000]} allowDataOverflow ticks={depthTicks} interval={0} width={60} stroke={AXIS} tickLine={false} tick={YRightTick} />
      {p.layers.map((l, i) => (
        <Area key={i} xAxisId="b" yAxisId="l" data={l.rows.map(([lat, top, bottom]) => ({ lat, band: [top, bottom] }))} dataKey="band"
          type={l.kind === 'floor' ? 'stepAfter' : l.kind === 'base' ? 'linear' : 'monotoneX'}
          fill={fillOf(l)} fillOpacity={1} stroke={strokeOf(l)} strokeWidth={0.5} strokeOpacity={0.7}
          dot={false} activeDot={false} isAnimationActive={false} legendType="none" />
      ))}
    </ComposedChart>
    <div style={{ position: 'absolute', left: p.col === 0 ? 19 : 15, top: LETTER_Y[p.row], fontFamily: FONT, fontWeight: 700, fontSize: 19, color: '#111', lineHeight: '20px' }}>{p.letter}</div>
    <div style={{ position: 'absolute', left: 85.5, width: 382, marginLeft: 15, top: TITLE_Y[p.row], textAlign: 'center', fontFamily: FONT, fontSize: 16.3, color: TXT, lineHeight: '18px', whiteSpace: 'nowrap' }}>{p.title}</div>
    <div style={{ position: 'absolute', left: 505, top: 30 }}>
      <ComposedChart width={64} height={140} data={[Object.fromEntries(barBands.map((b) => [b.k, b.v]))]} stackOffset="sign" barCategoryGap={0} margin={{ top: 16.5, bottom: 6.5, left: 15, right: 0 }}>
        <XAxis hide type="category" />
        <YAxis orientation="right" type="number" domain={[-8, 26]} allowDataOverflow ticks={barTicks} interval={0} width={28} axisLine={false} tickLine={false}
          tick={(t: any) => <text x={51} y={t.y + 5.5} textAnchor="middle" fontSize={TICK_FONT} fontFamily={FONT} fill={TXT}>{t.payload.value}</text>} />
        {barBands.map((b) => (
          <Bar key={b.k} dataKey={b.k} stackId="s" fill={b.c} stroke="#b8a8a0" strokeWidth={0.4} isAnimationActive={false} />
        ))}
      </ComposedChart>
    </div>
  </div>
);

export default function App() {
  return (
    <div style={{ position: 'fixed', left: 0, top: 0, width: 1150, height: 679, background: '#fff', overflow: 'visible' }}>
      {panels.map((p) => <Panel key={p.letter} p={p} />)}
    </div>
  );
}
